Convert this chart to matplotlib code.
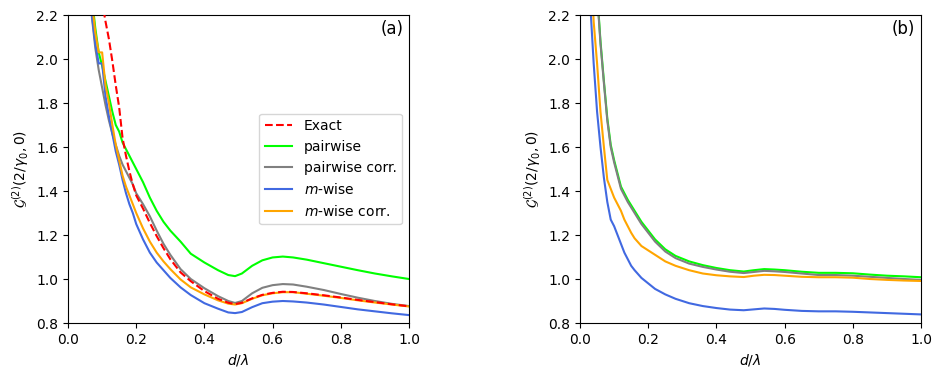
import numpy as np
import matplotlib
matplotlib.use("Agg")
import matplotlib.pyplot as plt

# ---- panel (a) data ----
d_a = [0.06, 0.07, 0.08, 0.09, 0.10, 0.11, 0.12, 0.13, 0.14, 0.15, 0.16, 0.17, 0.18, 0.19,
       0.20, 0.22, 0.24, 0.26, 0.28, 0.30, 0.33, 0.36, 0.40, 0.44, 0.47, 0.49, 0.51, 0.54,
       0.57, 0.60, 0.63, 0.66, 0.70, 0.75, 0.80, 0.85, 0.90, 0.95, 1.00]

exact_a = [3.00, 2.80, 2.60, 2.42, 2.26, 2.17, 2.09, 1.99, 1.88, 1.78, 1.64, 1.56, 1.49, 1.43,
           1.38, 1.32, 1.255, 1.195, 1.14, 1.09, 1.03, 0.99, 0.945, 0.91, 0.892, 0.886, 0.892, 0.912,
           0.928, 0.937, 0.942, 0.941, 0.935, 0.926, 0.916, 0.905, 0.895, 0.885, 0.876]

pair_a = [2.50, 2.28, 2.14, 2.03, 1.97, 1.90, 1.83, 1.76, 1.70, 1.67, 1.62, 1.59, 1.56, 1.53,
          1.50, 1.44, 1.37, 1.31, 1.26, 1.22, 1.17, 1.115, 1.075, 1.04, 1.018, 1.013, 1.025, 1.06,
          1.085, 1.098, 1.102, 1.098, 1.088, 1.072, 1.056, 1.04, 1.025, 1.012, 1.00]

paircorr_a = [2.40, 2.19, 2.05, 1.95, 1.87, 1.79, 1.72, 1.66, 1.61, 1.56, 1.52, 1.49, 1.46, 1.43,
              1.39, 1.34, 1.285, 1.22, 1.16, 1.11, 1.045, 1.00, 0.958, 0.922, 0.9, 0.891, 0.90, 0.935,
              0.96, 0.972, 0.977, 0.975, 0.965, 0.95, 0.932, 0.915, 0.90, 0.887, 0.877]

mwise_a = [2.45, 2.20, 2.07, 1.98, 1.98, 1.83, 1.74, 1.66, 1.58, 1.52, 1.45, 1.39, 1.34, 1.30,
           1.25, 1.18, 1.12, 1.075, 1.04, 1.005, 0.962, 0.927, 0.89, 0.865, 0.848, 0.845, 0.85, 0.872,
           0.89, 0.897, 0.90, 0.898, 0.893, 0.884, 0.873, 0.862, 0.853, 0.844, 0.836]

mcorr_a = [2.50, 2.26, 2.12, 2.03, 2.03, 1.88, 1.80, 1.70, 1.61, 1.54, 1.47, 1.42, 1.38, 1.34,
           1.30, 1.23, 1.17, 1.12, 1.08, 1.045, 0.998, 0.962, 0.93, 0.903, 0.888, 0.884, 0.89, 0.91,
           0.926, 0.935, 0.94, 0.94, 0.933, 0.924, 0.914, 0.903, 0.893, 0.884, 0.875]

# ---- panel (b) data ----
d_b = [0.02, 0.03, 0.04, 0.05, 0.06, 0.07, 0.08, 0.09, 0.10, 0.11, 0.12, 0.13, 0.14, 0.15,
       0.16, 0.18, 0.20, 0.22, 0.25, 0.28, 0.32, 0.36, 0.40, 0.44, 0.48, 0.51, 0.54, 0.57,
       0.60, 0.65, 0.70, 0.75, 0.80, 0.85, 0.90, 0.95, 1.00]

pair_b = [4.00, 3.20, 2.70, 2.31, 2.08, 1.90, 1.73, 1.61, 1.54, 1.48, 1.42, 1.39, 1.36, 1.335,
          1.31, 1.26, 1.22, 1.18, 1.135, 1.105, 1.08, 1.063, 1.05, 1.04, 1.034, 1.04, 1.045, 1.043,
          1.04, 1.033, 1.028, 1.028, 1.026, 1.02, 1.015, 1.012, 1.008]

paircorr_b = [4.00, 3.20, 2.70, 2.30, 2.07, 1.89, 1.72, 1.60, 1.53, 1.47, 1.41, 1.38, 1.35, 1.325,
              1.30, 1.25, 1.21, 1.17, 1.125, 1.095, 1.07, 1.055, 1.043, 1.033, 1.027, 1.032, 1.037, 1.035,
              1.032, 1.025, 1.018, 1.018, 1.015, 1.01, 1.005, 1.00, 0.996]

mwise_b = [3.00, 2.25, 1.98, 1.76, 1.60, 1.46, 1.35, 1.27, 1.24, 1.20, 1.16, 1.12, 1.09, 1.06,
           1.04, 1.005, 0.98, 0.955, 0.93, 0.91, 0.89, 0.877, 0.868, 0.861, 0.858, 0.862, 0.866, 0.864,
           0.86, 0.855, 0.853, 0.853, 0.851, 0.848, 0.845, 0.842, 0.839]

mcorr_b = [3.20, 2.50, 2.17, 1.98, 1.76, 1.60, 1.45, 1.41, 1.37, 1.34, 1.31, 1.27, 1.24, 1.21,
           1.185, 1.15, 1.13, 1.11, 1.08, 1.06, 1.04, 1.025, 1.017, 1.012, 1.009, 1.015, 1.019, 1.018,
           1.015, 1.01, 1.008, 1.008, 1.006, 1.00, 0.996, 0.993, 0.991]

fig = plt.figure(figsize=(9.41, 3.78), dpi=100)
ax1 = fig.add_axes([0.0723, 0.1455, 0.3623, 0.8148])
ax2 = fig.add_axes([0.6164, 0.1455, 0.3624, 0.8148])

ax1.plot(d_a, exact_a, '--', color='red', lw=1.5, label='Exact', zorder=5)
ax1.plot(d_a, pair_a, color='lime', lw=1.5, label='pairwise')
ax1.plot(d_a, paircorr_a, color='gray', lw=1.5, label='pairwise corr.')
ax1.plot(d_a, mwise_a, color='royalblue', lw=1.5, label='$m$-wise')
ax1.plot(d_a, mcorr_a, color='orange', lw=1.5, label='$m$-wise corr.')
ax1.legend(loc='center right')

ax2.plot(d_b, pair_b, color='lime', lw=1.5)
ax2.plot(d_b, paircorr_b, color='gray', lw=1.5)
ax2.plot(d_b, mwise_b, color='royalblue', lw=1.5)
ax2.plot(d_b, mcorr_b, color='orange', lw=1.5)

for ax, tag in [(ax1, '(a)'), (ax2, '(b)')]:
    ax.set_xlim(0, 1)
    ax.set_ylim(0.8, 2.2)
    ax.set_xticks([0, 0.2, 0.4, 0.6, 0.8, 1.0])
    ax.set_yticks([0.8, 1.0, 1.2, 1.4, 1.6, 1.8, 2.0, 2.2])
    ax.set_xlabel(r'$d/\lambda$')
    ax.set_ylabel(r'$\mathcal{G}^{(2)}(2/\gamma_0, 0)$')
    ax.text(0.983, 0.985, tag, transform=ax.transAxes, ha='right', va='top', fontsize=12)

fig.savefig('out.png', dpi=100)
